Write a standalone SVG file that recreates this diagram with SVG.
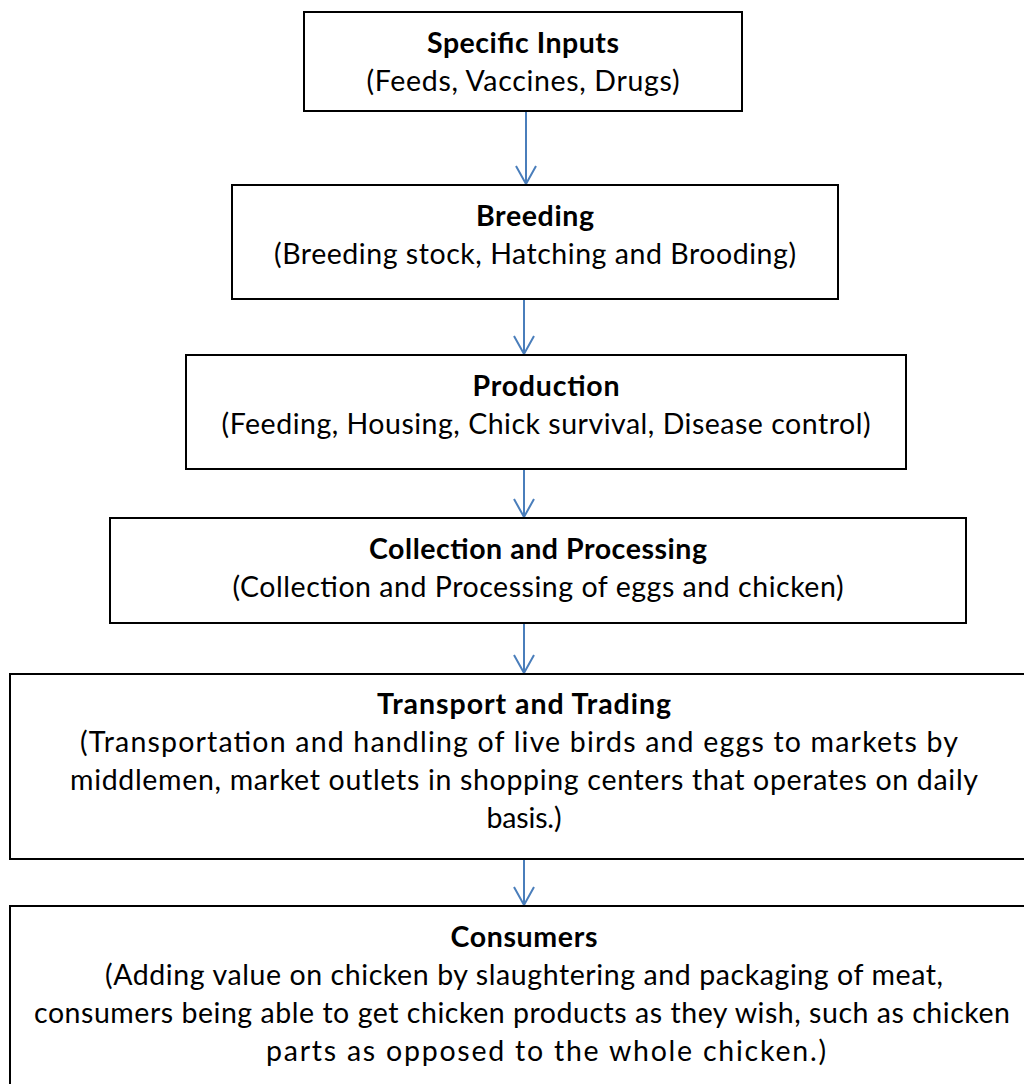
<svg xmlns="http://www.w3.org/2000/svg" width="1024" height="1084" viewBox="0 0 1024 1084">
<defs>
<style>
.box{fill:#fff;stroke:#000;stroke-width:2}
.t{font-family:Lato,"Open Sans","Liberation Sans",sans-serif;font-size:28.5px;fill:#000;text-anchor:middle}
.b{font-weight:bold}
.c{stroke:#4a7ebb;stroke-width:2;fill:none}
</style>
</defs>
<rect width="1024" height="1084" fill="#fff"/>
<g id="connectors">
<line class="c" x1="526" y1="111" x2="526" y2="184"/>
<line class="c" x1="524" y1="299" x2="524" y2="354"/>
<line class="c" x1="524" y1="469" x2="524" y2="517"/>
<line class="c" x1="524" y1="623" x2="524" y2="673"/>
<line class="c" x1="524" y1="859" x2="524" y2="905"/>
<path class="c" d="M516,166 L526,184 L536,166"/>
<path class="c" d="M514,336 L524,354 L534,336"/>
<path class="c" d="M514,499 L524,517 L534,499"/>
<path class="c" d="M514,655 L524,673 L534,655"/>
<path class="c" d="M514,887 L524,905 L534,887"/>
</g>
<g id="n1">
<rect class="box" x="304" y="12" width="438" height="99"/>
<text class="t b" x="523" y="53" textLength="192">Specific Inputs</text>
<text class="t" x="523" y="91" textLength="313">(Feeds, Vaccines, Drugs)</text>
</g>
<g id="n2">
<rect class="box" x="232" y="185" width="606" height="114"/>
<text class="t b" x="535" y="226" textLength="118">Breeding</text>
<text class="t" x="535" y="264" textLength="522">(Breeding stock, Hatching and Brooding)</text>
</g>
<g id="n3">
<rect class="box" x="186" y="355" width="720" height="114"/>
<text class="t b" x="546" y="396" textLength="147">Production</text>
<text class="t" x="546" y="434" textLength="649">(Feeding, Housing, Chick survival, Disease control)</text>
</g>
<g id="n4">
<rect class="box" x="110" y="518" width="856" height="105"/>
<text class="t b" x="538" y="559" textLength="338">Collection and Processing</text>
<text class="t" x="538" y="597" textLength="611">(Collection and Processing of eggs and chicken)</text>
</g>
<g id="n5">
<rect class="box" x="10" y="674" width="1030" height="185"/>
<text class="t b" x="524" y="714" textLength="294">Transport and Trading</text>
<text class="t" x="519" y="752" textLength="878">(Transportation and handling of live birds and eggs to markets by</text>
<text class="t" x="524" y="790" textLength="908">middlemen, market outlets in shopping centers that operates on daily</text>
<text class="t" x="524" y="828" textLength="75">basis.)</text>
</g>
<g id="n6">
<rect class="box" x="10" y="906" width="1030" height="190"/>
<text class="t b" x="524" y="947" textLength="147">Consumers</text>
<text class="t" x="524" y="985" textLength="838">(Adding value on chicken by slaughtering and packaging of meat,</text>
<text class="t" x="522" y="1023" textLength="976">consumers being able to get chicken products as they wish, such as chicken</text>
<text class="t" x="546" y="1061" textLength="560">parts as opposed to the whole chicken.)</text>
</g>
</svg>
